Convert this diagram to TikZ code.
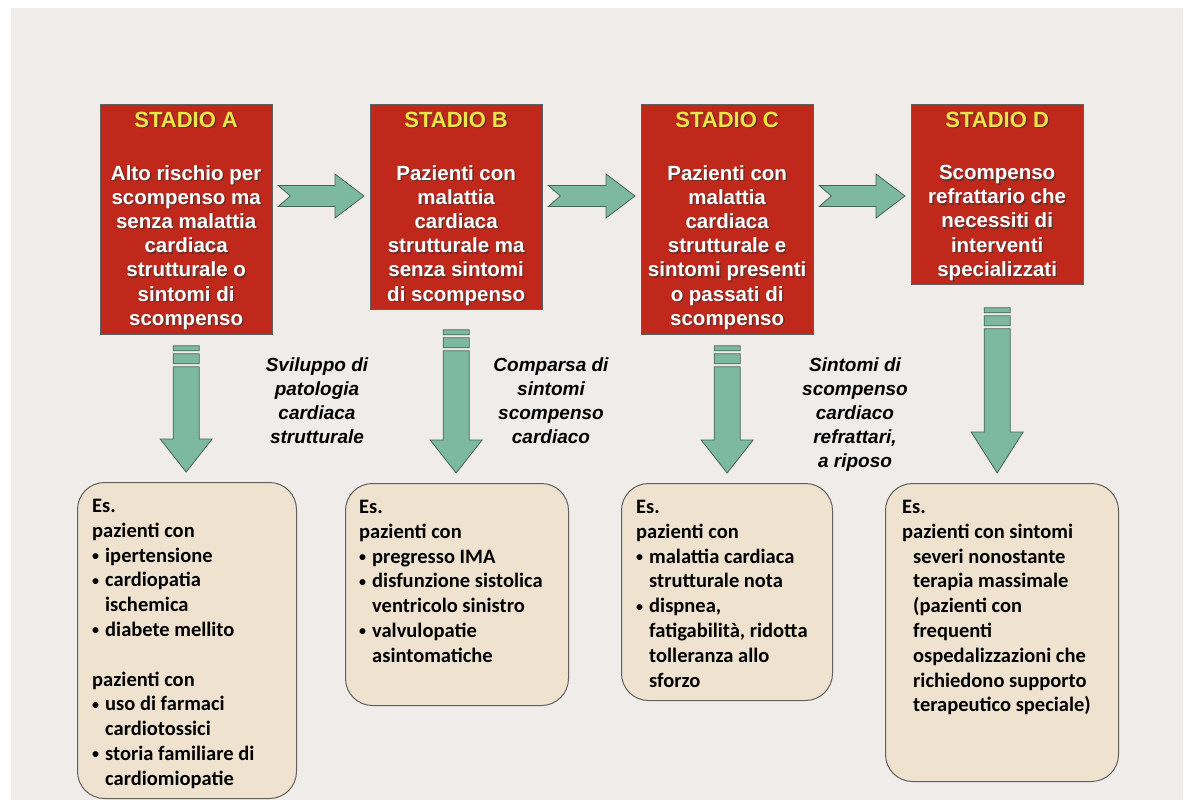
\documentclass[tikz,border=0pt]{standalone}
\usepackage{fontspec}
\setmainfont{Liberation Sans}
\newfontfamily\carl{Carlito}
\usetikzlibrary{calc}
\definecolor{bg}{RGB}{240,236,233}
\definecolor{redfill}{RGB}{193,40,28}
\definecolor{titley}{RGB}{240,228,70}
\definecolor{beige}{RGB}{239,227,208}
\definecolor{grn}{RGB}{124,185,160}
\definecolor{grnline}{RGB}{70,100,88}
\definecolor{edge}{RGB}{95,95,95}
\newcommand\bul{\makebox[13pt][l]{\raisebox{1.6pt}{\fontsize{14}{14}\selectfont •}}}
\newcommand\ind{\hspace*{13pt}}
\newcommand\dind{\hspace*{11pt}}
\newcommand\harrowshape[2]{%
  \path[arrowst] let \p1=(#1), \p2=(#2) in
    (\x1,\y1+10.5pt) -- (\x2-29pt,\y1+10.5pt) -- (\x2-29pt,\y1+22pt) -- (\x2,\y1)
    -- (\x2-29pt,\y1-22pt) -- (\x2-29pt,\y1-10.5pt) -- (\x1,\y1-10.5pt) -- (\x1+12pt,\y1) -- cycle;}
\newcommand\varrowshape[4]{%
  \path[arrowst] let \p1=($(#1.south)+(0,#2)$), \p2=($(#3.north)+(0,-10)$) in
    (\x1-13pt,\y1) rectangle (\x1+13pt,\y1-5pt)
    (\x1-13pt,\y1-8pt) rectangle (\x1+13pt,\y1-18pt)
    (\x1-13pt,\y1-21pt) -- (\x1+13pt,\y1-21pt) -- (\x1+13pt,\y2+#4pt) -- (\x1+26pt,\y2+#4pt)
    -- (\x1,\y2) -- (\x1-26pt,\y2+#4pt) -- (\x1-13pt,\y2+#4pt) -- cycle;}
\tikzset{
  redbox/.style={draw=edge, line width=0.8pt, fill=redfill, minimum width=171.5pt, inner sep=0pt, anchor=north west},
  stitle/.style={font=\fontsize{22}{24}\selectfont\bfseries, text=titley, inner sep=0pt, anchor=north},
  sbody/.style={font=\fontsize{20.5}{24.2}\selectfont\bfseries, text=white, align=center, inner sep=0pt, anchor=north},
  shad/.style={text=black!80, opacity=0.6},
  arrowst/.style={draw=grnline, fill=grn, line width=0.8pt, line join=miter},
  beigebox/.style={draw=edge, line width=1pt, fill=beige, rounded corners=27pt, anchor=north west, inner sep=0pt},
  etext/.style={font=\carl\fontsize{20.5}{24.8}\selectfont\bfseries, align=left, inner sep=0pt, anchor=north west},
  lab/.style={font=\fontsize{19}{23.8}\selectfont\bfseries\itshape, align=center, inner sep=0pt, anchor=north}
}
\begin{document}
\begin{tikzpicture}[x=1pt,y=-1pt]
\useasboundingbox (0,0) rectangle (1189,800);
\fill[white] (0,0) rectangle (1189,800);
\fill[bg] (11,8) rectangle (1183,800);

% red stage boxes
\node[redbox, minimum height=230pt] (A) at (100,104) {};
\node[redbox, minimum height=205pt] (B) at (370,104) {};
\node[redbox, minimum height=230pt] (C) at (641,104) {};
\node[redbox, minimum height=180pt] (D) at (911,104) {};

\foreach \n/\t in {A/STADIO A,B/STADIO B,C/STADIO C,D/STADIO D}{
  \node[stitle, shad] (\n ts) at ($(\n.north)+(1.5,9)$) {\t};
  \node[stitle] (\n t) at ($(\n.north)+(0,7.5)$) {\t};
}
\node[sbody, shad] (Abs) at ($(A.north)+(1.5,62.5)$) {Alto rischio per\\scompenso ma\\senza malattia\\cardiaca\\strutturale o\\sintomi di\\scompenso};
\node[sbody] (Ab) at ($(A.north)+(0,61)$) {Alto rischio per\\scompenso ma\\senza malattia\\cardiaca\\strutturale o\\sintomi di\\scompenso};
\node[sbody, shad] (Bbs) at ($(B.north)+(1.5,62.5)$) {Pazienti con\\malattia\\cardiaca\\strutturale ma\\senza sintomi\\di scompenso};
\node[sbody] (Bb) at ($(B.north)+(0,61)$) {Pazienti con\\malattia\\cardiaca\\strutturale ma\\senza sintomi\\di scompenso};
\node[sbody, shad] (Cbs) at ($(C.north)+(1.5,62.5)$) {Pazienti con\\malattia\\cardiaca\\strutturale e\\sintomi presenti\\o passati di\\scompenso};
\node[sbody] (Cb) at ($(C.north)+(0,61)$) {Pazienti con\\malattia\\cardiaca\\strutturale e\\sintomi presenti\\o passati di\\scompenso};
\node[sbody, shad] (Dbs) at ($(D.north)+(1.5,62.5)$) {Scompenso\\refrattario che\\necessiti di\\interventi\\specializzati};
\node[sbody] (Db) at ($(D.north)+(0,61)$) {Scompenso\\refrattario che\\necessiti di\\interventi\\specializzati};

% horizontal block arrows
\coordinate (ab1) at ($(A.north east)+(6,92)$);
\coordinate (ab2) at ($(B.north west)+(-6,92)$);
\coordinate (bc1) at ($(B.north east)+(6,92)$);
\coordinate (bc2) at ($(C.north west)+(-6,92)$);
\coordinate (cd1) at ($(C.north east)+(6,92)$);
\coordinate (cd2) at ($(D.north west)+(-6,92)$);
\harrowshape{ab1}{ab2}
\harrowshape{bc1}{bc2}
\harrowshape{cd1}{cd2}

% example boxes
\node[beigebox, minimum width=219pt, minimum height=316pt] (EA) at (77,482) {};
\node[beigebox, minimum width=223pt, minimum height=222pt] (EB) at (345,483) {};
\node[beigebox, minimum width=211pt, minimum height=217pt] (EC) at (621,483) {};
\node[beigebox, minimum width=233pt, minimum height=298pt] (ED) at (885,483) {};

% vertical striped arrows
\varrowshape{A}{11}{EA}{33}
\varrowshape{B}{20}{EB}{33}
\varrowshape{C}{11}{EC}{33}
\varrowshape{D}{23}{ED}{41}

% transition labels
\node[lab] (L1) at (317,358) {Sviluppo di\\patologia\\cardiaca\\strutturale};
\node[lab] (L2) at (551,358) {Comparsa di\\sintomi\\scompenso\\cardiaco};
\node[lab] (L3) at (855,358) {Sintomi di\\scompenso\\cardiaco\\refrattari,\\a riposo};

% example texts
\node[etext] (EAt) at ($(EA.north west)+(15,17)$) {Es.\\pazienti con\\\bul ipertensione\\\bul cardiopatia\\\ind ischemica\\\bul diabete mellito\\[24.8pt]pazienti con\\\bul uso di farmaci\\\ind cardiotossici\\\bul storia familiare di\\\ind cardiomiopatie};
\node[etext] (EBt) at ($(EB.north west)+(14,17)$) {Es.\\pazienti con\\\bul pregresso IMA\\\bul disfunzione sistolica\\\ind ventricolo sinistro\\\bul valvulopatie\\\ind asintomatiche};
\node[etext] (ECt) at ($(EC.north west)+(15,17)$) {Es.\\pazienti con\\\bul malattia cardiaca\\\ind strutturale nota\\\bul dispnea,\\\ind fatigabilità, ridotta\\\ind tolleranza allo\\\ind sforzo};
\node[etext] (EDt) at ($(ED.north west)+(17,17)$) {Es.\\pazienti con sintomi\\\dind severi nonostante\\\dind terapia massimale\\\dind (pazienti con\\\dind frequenti\\\dind ospedalizzazioni che\\\dind richiedono supporto\\\dind terapeutico speciale)};
\end{tikzpicture}
\end{document}
